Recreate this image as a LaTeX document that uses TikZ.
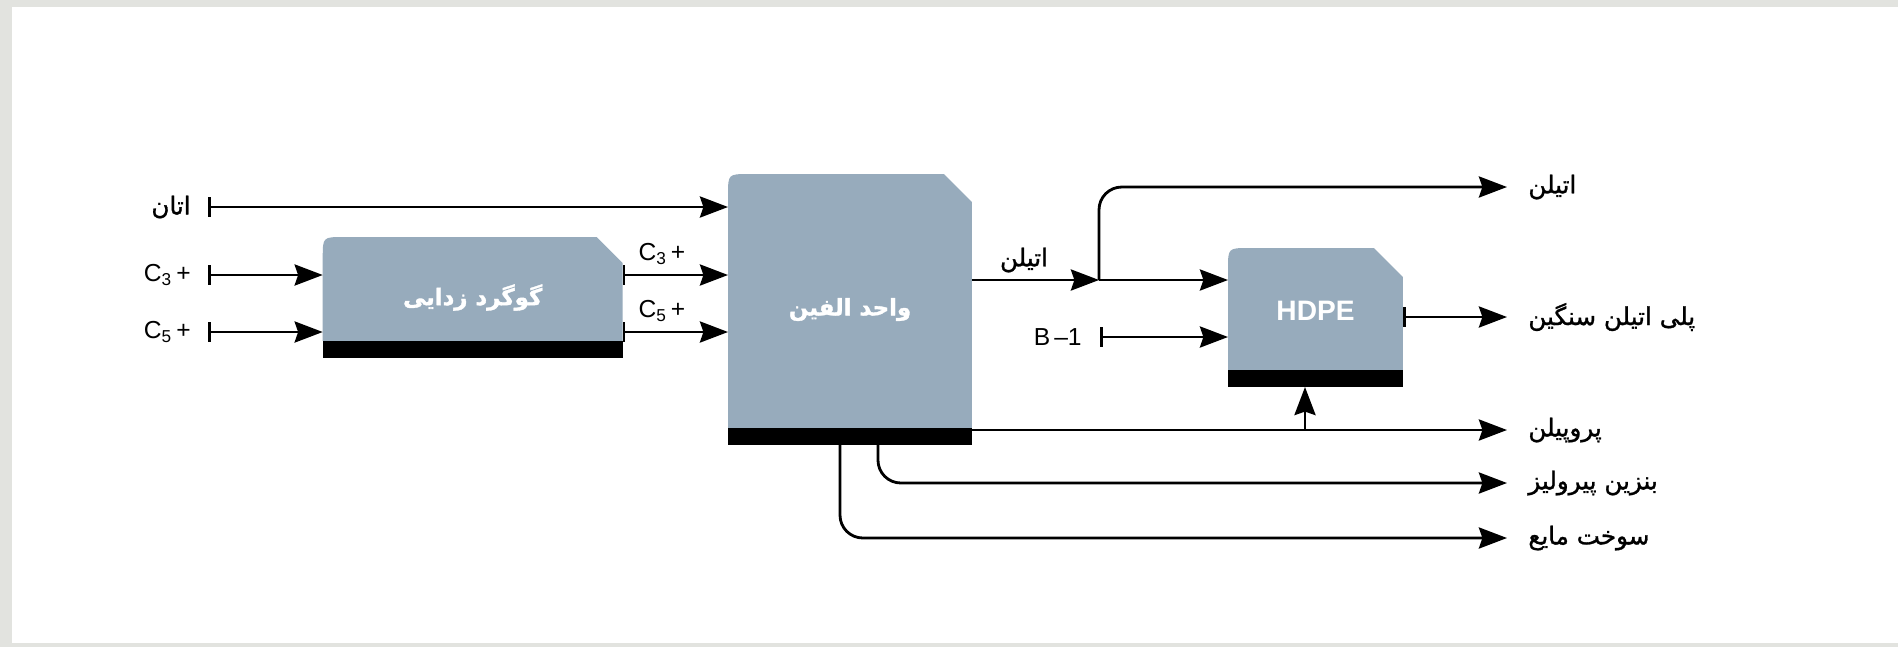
\documentclass[tikz,border=0pt]{standalone}
\usepackage{fontspec}
\setmainfont{Liberation Sans}
\newfontfamily\farsi[Script=Arabic]{DejaVu Sans}
\newfontfamily\farsimed[Script=Arabic, FakeBold=1.2]{DejaVu Sans}
\newfontfamily\farsiheavy[Script=Arabic, FakeBold=1.5]{DejaVu Sans Bold}
\TeXXeTstate=1
\usepackage{tikz}
\usetikzlibrary{arrows.meta,positioning,calc}
\definecolor{unitfill}{RGB}{151,171,188}
\definecolor{framegray}{RGB}{226,227,223}

\tikzset{
  flow/.style={line width=1.6pt, -{Stealth[length=16pt,width=12pt,inset=2pt]}},
  feed/.style={line width=1.6pt, {Bar[width=11pt]}-{Stealth[length=16pt,width=12pt,inset=2pt]}},
  unit/.style={inner sep=0pt, outer sep=0pt},
  unittext/.style={text=white, font=\fontsize{13}{16}\selectfont},
  lbl/.style={font=\fontsize{14}{17}\selectfont, inner sep=0pt},
}

\begin{document}
\begin{tikzpicture}[x=0.02cm, y=-0.02cm]
\useasboundingbox (0,0) rectangle (1898,647);
\fill[framegray] (0,0) rectangle (1898,647);
\fill[white] (12,7) rectangle (1898,643);

% process units
\node[unit, minimum width=6cm, minimum height=2.42cm] (desulf) at (472.7,297.5) {};
\node[unit, minimum width=4.88cm, minimum height=5.42cm] (olefin) at (850,309.5) {};
\node[unit, minimum width=3.5cm, minimum height=2.78cm] (hdpe) at (1315.5,317.5) {};
\foreach \u/\c in {desulf/26, olefin/28, hdpe/29} {
  \fill[unitfill] ($(\u.south west)+(0,-17)$) -- ($(\u.north west)+(0,21)$)
    .. controls (\u.north west) .. ($(\u.north west)+(21,0)$)
    -- ($(\u.north east)+(-\c,0)$) -- ($(\u.north east)+(0,\c)$)
    -- ($(\u.south east)+(0,-17)$) -- cycle;
  \fill[black] (\u.south west) rectangle ($(\u.south east)+(0,-17)$);
}
\node[unittext] (desulfT) at (desulf) {\farsiheavy\beginR گوگرد زدایی\endR};
\node[unittext] (olefinT) at (olefin) {\farsiheavy\beginR واحد الفین\endR};
\node[unittext, font=\fontsize{16}{18}\selectfont\bfseries] (hdpeT) at ([yshift=0.13cm]hdpe.center) {HDPE};

% stream ends
\coordinate (ethS) at (208,207);
\coordinate (c3S) at (208,275);
\coordinate (c5S) at (208,332);
\coordinate (split) at (1099,280);
\coordinate (b1S) at (1100,337);
\coordinate (ethO) at (1507,187);
\coordinate (peO) at (1507,317);
\coordinate (prO) at (1507,430);
\coordinate (tap) at (1305,430);
\coordinate (gasO) at (1507,483);
\coordinate (fuelO) at (1507,538);

% streams
\draw[feed] (ethS) -- (ethS -| olefin.west);
\draw[feed] (c3S) -- (c3S -| desulf.west);
\draw[feed] (c5S) -- (c5S -| desulf.west);
\draw[feed] (c3S -| desulf.east) -- (c3S -| olefin.west);
\draw[feed] (c5S -| desulf.east) -- (c5S -| olefin.west);
\draw[flow] (split -| olefin.east) -- (split);
\draw[flow, rounded corners=13pt] (split) |- (ethO);
\draw[flow] (split) -- (split -| hdpe.west);
\draw[feed] (b1S) -- (b1S -| hdpe.west);
\draw[feed] (peO -| hdpe.east) -- (peO);
\draw[flow] (prO -| olefin.east) -- (prO);
\draw[flow] (tap) -- (tap |- hdpe.south);
\draw[flow, rounded corners=13pt] ([xshift=0.56cm]olefin.south) |- (gasO);
\draw[flow, rounded corners=13pt] ([xshift=-0.2cm]olefin.south) |- (fuelO);

% labels
\node[lbl, left=0.34cm of ethS] (ethaneL) {\farsimed\beginR اتان\endR};
\node[lbl, left=0.34cm of c3S] (c3L) {C\textsubscript{3}\,+};
\node[lbl, left=0.34cm of c5S] (c5L) {C\textsubscript{5}\,+};
\node[lbl] (c3M) at (662,254) {C\textsubscript{3}\,+};
\node[lbl] (c5M) at (662,311) {C\textsubscript{5}\,+};
\node[lbl] (ethM) at (1024,260) {\farsimed\beginR اتیلن\endR};
\node[lbl, left=0.36cm of b1S] (b1L) {B\,--1};
\node[lbl, right=0.42cm of ethO] (ethL) {\farsimed\beginR اتیلن\endR};
\node[lbl, right=0.42cm of peO] (peL) {\farsimed\beginR پلی اتیلن سنگین\endR};
\node[lbl, right=0.42cm of prO] (prL) {\farsimed\beginR پروپیلن\endR};
\node[lbl, right=0.42cm of gasO] (gasL) {\farsimed\beginR بنزین پیرولیز\endR};
\node[lbl, right=0.42cm of fuelO] (fuelL) {\farsimed\beginR سوخت مایع\endR};
\end{tikzpicture}
\end{document}
